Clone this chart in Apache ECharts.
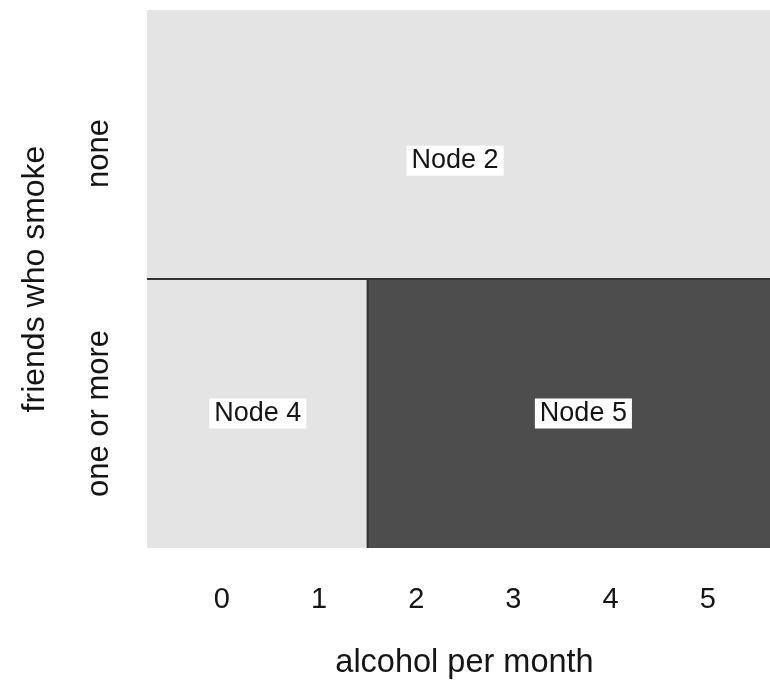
<!DOCTYPE html>
<html>
<head>
<meta charset="utf-8">
<script src="https://cdn.jsdelivr.net/npm/echarts@6/dist/echarts.min.js"></script>
<style>html,body{margin:0;padding:0;background:#fff}#c{width:770px;height:686px}</style>
</head>
<body>
<div id="c"></div>
<script>
// ---- data ----
const nodeNames = ['Node 2', 'Node 4', 'Node 5'];
const nodeX0 = [-0.77, -0.77, 1.5];
const nodeX1 = [5.64, 1.5, 5.64];
const nodeY0 = [1, 0, 0];
const nodeY1 = [2, 1, 1];
const nodeLabelX = [2.4, 0.37, 3.72];
const nodeLabelY = [1.44, 0.5, 0.5];
const nodeShade = ['light', 'light', 'dark'];
const xTicks = [0, 1, 2, 3, 4, 5];
const yCategories = ['one or more', 'none'];
const yCategoryValues = [0.5, 1.5];
const splitLines = [[-0.77, 1, 5.64, 1], [1.5, 0, 1.5, 1]];
const xRange = [-0.77, 5.64];
const yRange = [0, 2];

const shadeColors = { light: '#e4e4e4', dark: '#4d4d4d' };
const FONT = 'Liberation Sans, Arial, sans-serif';
const TXT = '#151515';

const rectData = nodeNames.map((n, i) => [nodeX0[i], nodeX1[i], nodeY0[i], nodeY1[i], i]);
const labelData = nodeNames.map((n, i) => [nodeLabelX[i], nodeLabelY[i], i]);

const chart = echarts.init(document.getElementById('c'), null, { renderer: 'canvas' });
chart.setOption({
  animation: false,
  backgroundColor: '#fff',
  grid: { left: 147, right: 0, top: 10, bottom: 138 },
  xAxis: {
    type: 'value', min: xRange[0], max: xRange[1],
    name: 'alcohol per month', nameLocation: 'middle', nameGap: 99,
    nameTextStyle: { fontSize: 32.5, color: TXT, fontFamily: FONT, padding: [0, 0, 0, 12] },
    axisLine: { show: false }, axisTick: { show: false }, splitLine: { show: false },
    axisLabel: { customValues: xTicks, fontSize: 29, color: TXT, fontFamily: FONT, margin: 37 }
  },
  yAxis: {
    type: 'value', min: yRange[0], max: yRange[1],
    name: 'friends who smoke', nameLocation: 'middle', nameGap: 96,
    nameTextStyle: { fontSize: 32, color: TXT, fontFamily: FONT },
    axisLine: { show: false }, axisTick: { show: false }, splitLine: { show: false },
    axisLabel: {
      customValues: yCategoryValues, rotate: 90, fontSize: 31, color: TXT, fontFamily: FONT, margin: 32,
      formatter: v => {
        const k = yCategoryValues.indexOf(v);
        if (k < 0) return '';
        return k === 1 ? '{top|' + yCategories[k] + '}' : '{bot|' + yCategories[k] + '}';
      },
      rich: {
        top: { fontSize: 31, color: TXT, fontFamily: FONT, padding: [0, 18, 0, 0] },
        bot: { fontSize: 31, color: TXT, fontFamily: FONT }
      }
    }
  },
  series: [
    {
      type: 'custom', data: rectData, silent: true, clip: true,
      renderItem: (params, api) => {
        const p0 = api.coord([api.value(0), api.value(3)]);
        const p1 = api.coord([api.value(1), api.value(2)]);
        const idx = api.value(4);
        const col = shadeColors[nodeShade[idx]];
        return { type: 'rect', shape: { x: p0[0], y: p0[1], width: p1[0] - p0[0], height: p1[1] - p0[1] },
          style: { fill: col, stroke: null } };
      }
    },
    {
      type: 'custom', data: splitLines, silent: true, clip: true, z: 3,
      renderItem: (params, api) => {
        const a = api.coord([api.value(0), api.value(1)]);
        const b = api.coord([api.value(2), api.value(3)]);
        return { type: 'line', shape: { x1: a[0], y1: a[1], x2: b[0], y2: b[1] },
          style: { stroke: '#333', lineWidth: 2 } };
      }
    },
    {
      type: 'custom', data: labelData, silent: true, z: 5,
      renderItem: (params, api) => {
        const p = api.coord([api.value(0), api.value(1)]);
        return { type: 'text', x: p[0], y: p[1],
          style: { text: nodeNames[api.value(2)], fill: TXT, font: '27px ' + FONT,
            align: 'center', verticalAlign: 'middle', backgroundColor: '#fff', padding: [2, 5, 1, 5] } };
      }
    }
  ]
});
</script>
</body>
</html>
